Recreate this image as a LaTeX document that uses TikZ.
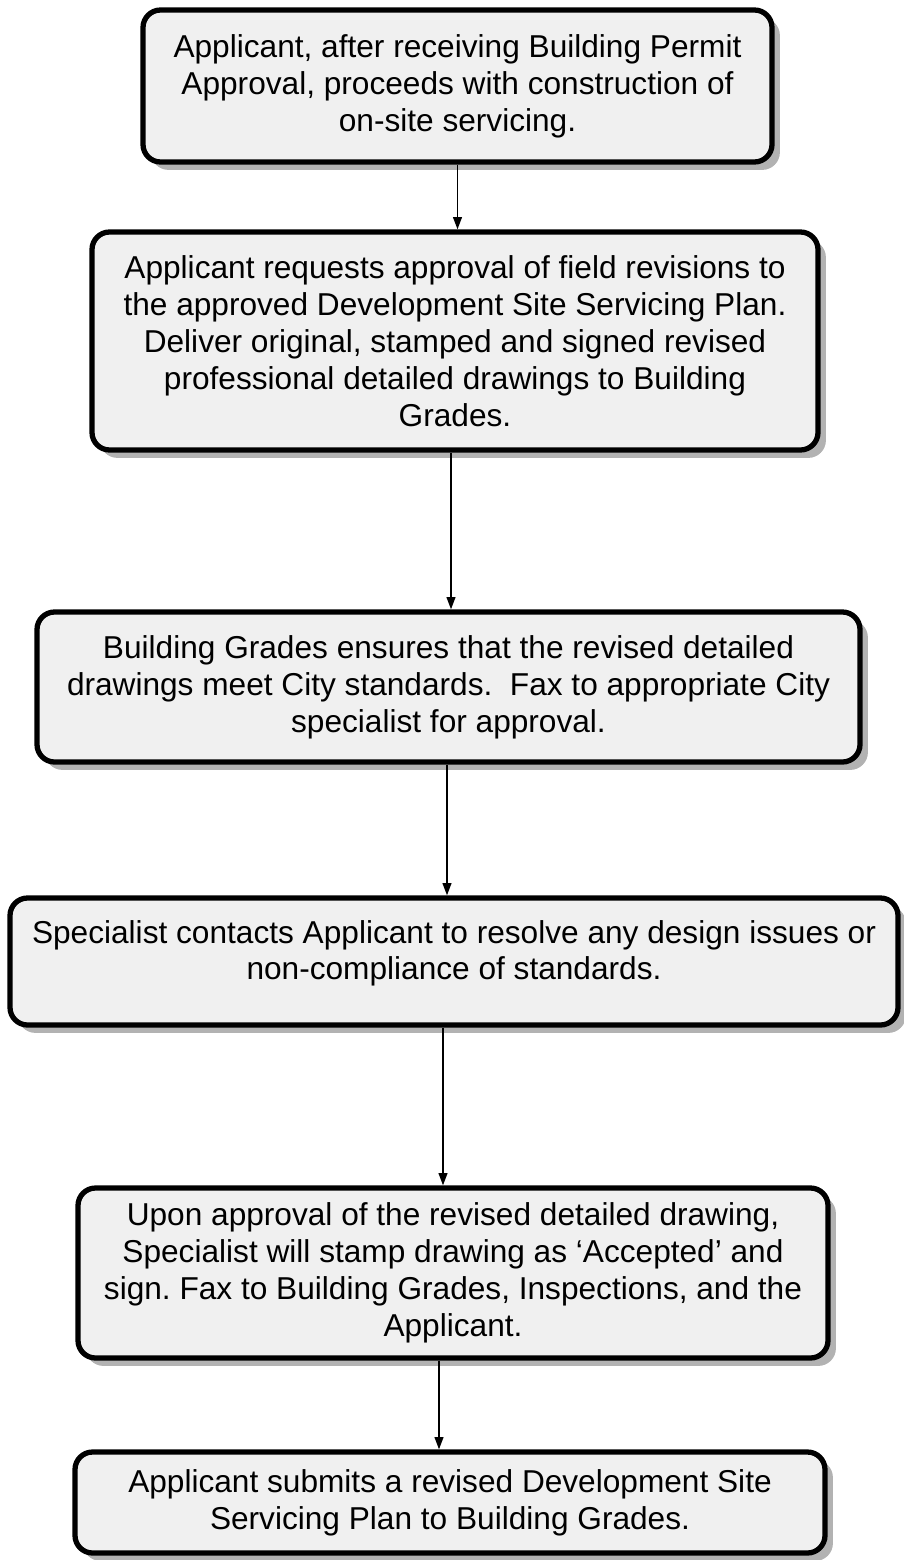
\documentclass[tikz,border=0pt]{standalone}
\usepackage{fontspec}
\setmainfont{Liberation Sans}
\usetikzlibrary{arrows.meta,shadows}

\begin{document}
\begin{tikzpicture}[
    stepbox/.style={draw, line width=3pt, rounded corners=10pt, align=center, fill=gray!12,
      font=\fontsize{18}{21}\selectfont\frenchspacing, inner sep=0pt,
      drop shadow={shadow xshift=4.5pt, shadow yshift=-4.5pt, fill=gray!60, opacity=1}},
    flow/.style={-{Triangle[length=7pt,width=5pt]}, line width=1pt}
  ]
    \useasboundingbox (0, 0) rectangle (18.06, -31.2);

    % --- Riquadri del flusso ---
    \node[stepbox, minimum width=12.58cm, minimum height=3.04cm] (permit) at (9.15, -1.72)
      {Applicant, after receiving Building Permit\\Approval, proceeds with construction of\\on-site servicing.};
    \node[stepbox, minimum width=14.52cm, minimum height=4.36cm] (request) at (9.10, -6.82)
      {Applicant requests approval of field revisions to\\the approved Development Site Servicing Plan.\\Deliver original, stamped and signed revised\\professional detailed drawings to Building\\Grades.};
    \node[stepbox, minimum width=16.46cm, minimum height=3.0cm] (ensure) at (8.97, -13.74)
      {Building Grades ensures that the revised detailed\\drawings meet City standards.\ \ Fax to appropriate City\\specialist for approval.};
    \node[stepbox, minimum width=17.76cm, minimum height=2.54cm] (contact) at (9.08, -19.23)
      {Specialist contacts Applicant to resolve any design issues or\\non-compliance of standards.\\[-0.28cm]};
    \node[stepbox, minimum width=15.0cm, minimum height=3.4cm] (accept) at (9.06, -25.46)
      {Upon approval of the revised detailed drawing,\\Specialist will stamp drawing as `Accepted' and\\sign. Fax to Building Grades, Inspections, and the\\Applicant.};
    \node[stepbox, minimum width=15.0cm, minimum height=2.02cm] (submit) at (9.0, -30.05)
      {Applicant submits a revised Development Site\\Servicing Plan to Building Grades.};

    % --- Frecce ---
    \draw[flow] (permit.south) -- (permit.south |- request.north);
    \draw[flow] ([xshift=-0.08cm]request.south) -- ([xshift=-0.08cm]request.south |- ensure.north);
    \draw[flow] ([xshift=-0.03cm]ensure.south) -- ([xshift=-0.03cm]ensure.south |- contact.north);
    \draw[flow] ([xshift=-0.22cm]contact.south) -- ([xshift=-0.22cm]contact.south |- accept.north);
    \draw[flow] ([xshift=-0.28cm]accept.south) -- ([xshift=-0.28cm]accept.south |- submit.north);
  \end{tikzpicture}
\end{document}
